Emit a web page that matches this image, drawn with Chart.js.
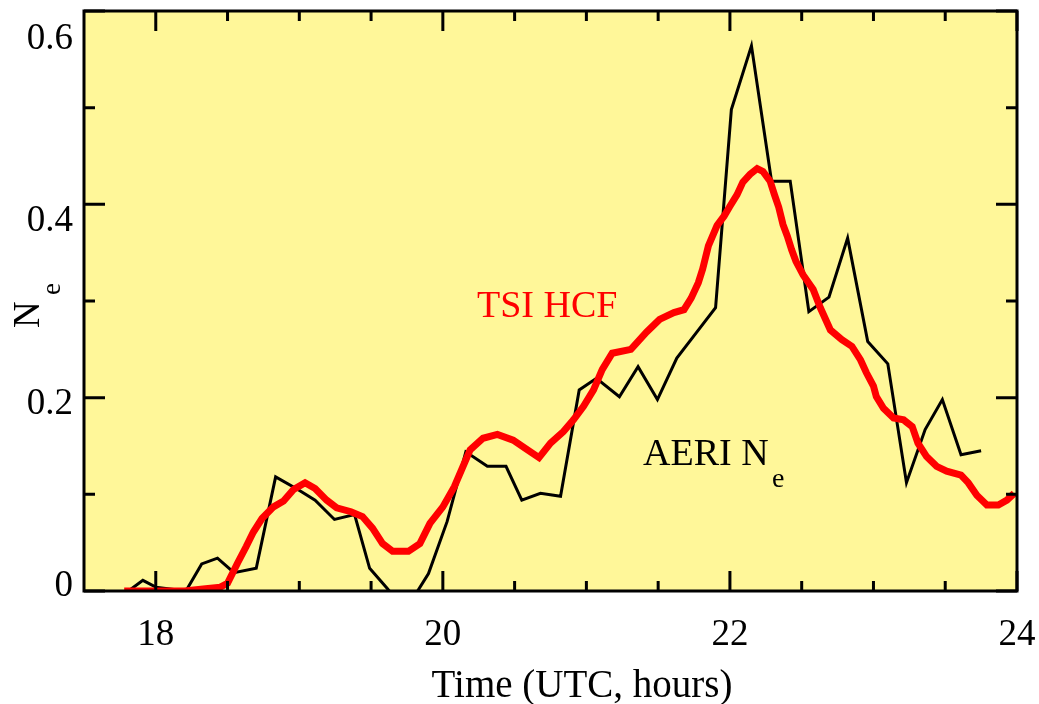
<!DOCTYPE html>
<html>
<head>
<meta charset="utf-8">
<script src="https://cdn.jsdelivr.net/npm/chart.js@4.4.1/dist/chart.umd.min.js"></script>
<style>
  html, body { margin: 0; padding: 0; background: #fff; }
  canvas { display: block; }
</style>
</head>
<body>
<canvas id="neChart" width="1039" height="704"></canvas>
<script>
// AERI retrieval (black line)
const aeriTime = [17.81, 17.91, 18.00, 18.21, 18.32, 18.43, 18.545, 18.70, 18.835, 18.99,
  19.11, 19.245, 19.385, 19.49, 19.61, 19.74, 19.90, 20.03, 20.16, 20.31,
  20.44, 20.55, 20.68, 20.82, 20.95, 21.07, 21.23, 21.36, 21.495, 21.63,
  21.765, 21.90, 22.01, 22.15, 22.29, 22.42, 22.55, 22.69, 22.82, 22.96,
  23.10, 23.23, 23.36, 23.48, 23.61, 23.75]
const aeriNe = [0, 0.011, 0.004, 0, 0.028, 0.034, 0.019, 0.0235, 0.118, 0.105,
  0.094, 0.074, 0.079, 0.0235, 0.003, -0.02, 0.018, 0.072, 0.144, 0.129,
  0.129, 0.094, 0.101, 0.098, 0.208, 0.220, 0.201, 0.232, 0.198, 0.241,
  0.267, 0.293, 0.498, 0.564, 0.424, 0.424, 0.289, 0.304, 0.365, 0.258,
  0.235, 0.112, 0.167, 0.198, 0.141, 0.145]

// TSI hemispheric cloud fraction (red line)
const tsiTime = [17.78, 18.00, 18.20, 18.33, 18.45, 18.50, 18.57, 18.63, 18.68, 18.74,
  18.82, 18.89, 18.96, 19.04, 19.11, 19.19, 19.26, 19.36, 19.44, 19.51,
  19.58, 19.65, 19.76, 19.84, 19.91, 20.00, 20.08, 20.19, 20.28, 20.38,
  20.49, 20.59, 20.67, 20.75, 20.84, 20.91, 20.98, 21.05, 21.11, 21.18,
  21.31, 21.42, 21.51, 21.61, 21.68, 21.73, 21.78, 21.81, 21.85, 21.91,
  21.96, 22.00, 22.05, 22.09, 22.14, 22.19, 22.23, 22.28, 22.31, 22.34,
  22.37, 22.40, 22.43, 22.46, 22.51, 22.58, 22.63, 22.70, 22.78, 22.85,
  22.91, 22.95, 23.00, 23.02, 23.07, 23.14, 23.21, 23.27, 23.31, 23.37,
  23.44, 23.51, 23.61, 23.66, 23.72, 23.79, 23.87, 23.93, 23.98]
const tsiHcf = [0, 0, 0, 0.002, 0.004, 0.008, 0.029, 0.046, 0.061, 0.075,
  0.087, 0.093, 0.105, 0.112, 0.106, 0.094, 0.086, 0.082, 0.077, 0.065,
  0.049, 0.041, 0.041, 0.049, 0.070, 0.087, 0.108, 0.146, 0.158, 0.162,
  0.156, 0.146, 0.138, 0.153, 0.165, 0.177, 0.191, 0.208, 0.229, 0.246,
  0.250, 0.268, 0.281, 0.288, 0.291, 0.303, 0.319, 0.333, 0.357, 0.378,
  0.388, 0.398, 0.410, 0.423, 0.431, 0.437, 0.434, 0.424, 0.410, 0.397,
  0.379, 0.367, 0.353, 0.341, 0.327, 0.312, 0.293, 0.270, 0.260, 0.253,
  0.239, 0.226, 0.212, 0.201, 0.189, 0.179, 0.177, 0.170, 0.153, 0.139,
  0.129, 0.124, 0.120, 0.112, 0.099, 0.089, 0.089, 0.094, 0.101]

// axis ticks
const xMajorTicks = [18, 20, 22, 24]
const xMinorTicks = [18.5, 19, 19.5, 20.5, 21, 21.5, 22.5, 23, 23.5]
const yMajorTicks = [0, 0.2, 0.4, 0.6]
const yMinorTicks = [0.1, 0.3, 0.5]
const yTickLabels = ['0', '0.2', '0.4', '0.6']

const SERIF = '"Liberation Serif", "Times New Roman", serif'
const PLOT_BG = 'rgb(255, 247, 153)'

const framePlugin = {
    id: 'frame',
    beforeDatasetsDraw(chart) {
        const { ctx, chartArea: a } = chart
        ctx.save()
        ctx.fillStyle = PLOT_BG
        ctx.fillRect(a.left, a.top, a.right - a.left, a.bottom - a.top)
        ctx.restore()
    },
    afterDatasetsDraw(chart) {
        const { ctx, chartArea: a, scales: { x, y } } = chart
        ctx.save()
        ctx.strokeStyle = '#000'
        ctx.lineWidth = 3
        ctx.strokeRect(a.left, a.top, a.right - a.left, a.bottom - a.top)

        // inward ticks on all four sides
        ctx.beginPath()
        const xTick = (v, len) => {
            const px = x.getPixelForValue(v)
            ctx.moveTo(px, a.bottom); ctx.lineTo(px, a.bottom - len)
            ctx.moveTo(px, a.top); ctx.lineTo(px, a.top + len)
        }
        const yTick = (v, len) => {
            const py = y.getPixelForValue(v)
            ctx.moveTo(a.left, py); ctx.lineTo(a.left + len, py)
            ctx.moveTo(a.right, py); ctx.lineTo(a.right - len, py)
        }
        xMajorTicks.forEach(v => xTick(v, 20))
        xMinorTicks.forEach(v => xTick(v, 10))
        yMajorTicks.forEach(v => yTick(v, 21))
        yMinorTicks.forEach(v => yTick(v, 11))
        ctx.stroke()

        // y tick labels (spread a little tighter than the ticks, like the original)
        ctx.fillStyle = '#000'
        ctx.font = `37px ${SERIF}`
        ctx.textAlign = 'right'
        ctx.textBaseline = 'middle'
        yMajorTicks.forEach((v, i) => {
            const py = y.getPixelForValue(v)
            const ly = a.bottom - 5 + (py - a.bottom) * 0.942
            ctx.fillText(yTickLabels[i], a.left - 11, ly)
        })

        // y title: N with subscript e, rotated
        ctx.save()
        ctx.translate(39, 328)
        ctx.rotate(-Math.PI / 2)
        ctx.textAlign = 'left'
        ctx.textBaseline = 'alphabetic'
        ctx.font = `37px ${SERIF}`
        ctx.fillText('N', 0, 0)
        ctx.font = `27px ${SERIF}`
        ctx.fillText('e', 33, 21)
        ctx.restore()

        // x title, sits right of the axis centre in the original
        ctx.textAlign = 'center'
        ctx.textBaseline = 'alphabetic'
        ctx.font = `39px ${SERIF}`
        ctx.fillText('Time (UTC, hours)', 582, 697)

        // in-plot labels
        ctx.textAlign = 'left'
        ctx.fillStyle = '#ff0000'
        ctx.font = `38px ${SERIF}`
        ctx.fillText('TSI HCF', 477, 317)
        ctx.fillStyle = '#000'
        ctx.fillText('AERI N', 643, 465)
        ctx.font = `28px ${SERIF}`
        ctx.fillText('e', 772, 487)
        ctx.restore()
    }
}

const ctx = document.getElementById('neChart').getContext('2d')

new Chart(ctx, {
    type: 'line',
    data: {
        datasets: [
            {
                label: 'TSI HCF',
                data: tsiTime.map((t, i) => ({ x: t, y: tsiHcf[i] })),
                borderColor: '#ff0000',
                borderWidth: 7,
                pointRadius: 0,
                tension: 0,
                order: 0
            },
            {
                label: 'AERI Ne',
                data: aeriTime.map((t, i) => ({ x: t, y: aeriNe[i] })),
                borderColor: '#000',
                borderWidth: 3,
                pointRadius: 0,
                tension: 0,
                clip: 0,
                order: 1
            }
        ]
    },
    options: {
        responsive: false,
        animation: false,
        layout: { padding: { top: 11, right: 22, left: 0, bottom: 0 } },
        plugins: {
            legend: { display: false },
            tooltip: { enabled: false }
        },
        scales: {
            x: {
                type: 'linear',
                min: 17.5,
                max: 24,
                grid: { display: false },
                border: { display: false },
                afterBuildTicks: scale => { scale.ticks = xMajorTicks.map(v => ({ value: v })) },
                afterFit: scale => {
                    scale.height = 113
                    scale.paddingLeft = 0
                    scale.paddingRight = 0
                },
                ticks: {
                    color: '#000',
                    font: { family: SERIF, size: 37, lineHeight: 1 },
                    padding: 18,
                    maxRotation: 0,
                    autoSkip: false,
                    callback: v => String(v)
                },
                title: { display: false }
            },
            y: {
                min: 0,
                max: 0.6,
                grid: { display: false },
                border: { display: false },
                ticks: { display: false },
                afterFit: scale => { scale.width = 84 }
            }
        }
    },
    plugins: [framePlugin]
})
</script>
</body>
</html>
